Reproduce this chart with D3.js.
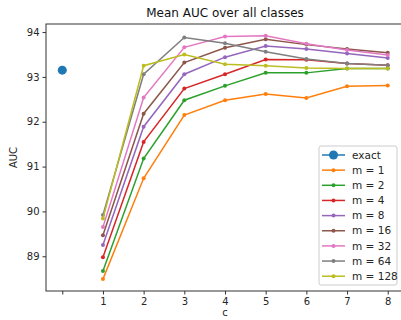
<!DOCTYPE html>
<html>
<head>
<meta charset="utf-8">
<script src="https://cdn.jsdelivr.net/npm/d3@7"></script>
<style>
  body { margin: 0; background: #fff; }
  text { font-family: "DejaVu Sans", sans-serif; }
</style>
</head>
<body>
<div id="chart"></div>
<script>
var width = 401,
  height = 320,
  margin = { left: 46, right: -3, top: 24, bottom: 29 };

// c values and series
var cValues = [1, 2, 3, 4, 5, 6, 7, 8];
var exactValue = 93.15;
var seriesNames = ["m = 1", "m = 2", "m = 4", "m = 8", "m = 16", "m = 32", "m = 64", "m = 128"];
var m1 = [88.49, 90.74, 92.15, 92.48, 92.62, 92.53, 92.79, 92.81];
var m2 = [88.67, 91.18, 92.48, 92.80, 93.09, 93.09, 93.19, 93.19];
var m4 = [88.98, 91.55, 92.74, 93.06, 93.39, 93.38, 93.30, 93.26];
var m8 = [89.25, 91.89, 93.06, 93.44, 93.69, 93.62, 93.52, 93.42];
var m16 = [89.47, 92.18, 93.32, 93.65, 93.84, 93.72, 93.62, 93.54];
var m32 = [89.65, 92.54, 93.66, 93.90, 93.92, 93.74, 93.60, 93.49];
var m64 = [89.92, 93.06, 93.88, 93.75, 93.56, 93.40, 93.30, 93.26];
var m128 = [89.84, 93.25, 93.50, 93.28, 93.25, 93.20, 93.19, 93.19];
var colors = ["#ff7f0e", "#2ca02c", "#d62728", "#9467bd", "#8c564b", "#e377c2", "#7f7f7f", "#bcbd22"];
var xTicks = [0, 1, 2, 3, 4, 5, 6, 7, 8];
var yTicks = [89, 90, 91, 92, 93, 94];

var allSeries = [m1, m2, m4, m8, m16, m32, m64, m128];

var svg = d3.select("#chart")
  .append("svg")
  .attr("width", width)
  .attr("height", height);

var x = d3.scaleLinear().domain([-0.4, 8.4]).range([margin.left, width - margin.right]);
var y = d3.scaleLinear().domain([88.225, 94.18]).range([height - margin.bottom, margin.top]);

// lines
var line = d3.line()
  .x(function (d, i) { return x(cValues[i]); })
  .y(function (d) { return y(d); });

allSeries.forEach(function (s, k) {
  svg.append("path")
    .datum(s)
    .attr("d", line)
    .attr("fill", "none")
    .attr("stroke", colors[k])
    .attr("stroke-width", 1.5);
  svg.selectAll(null)
    .data(s)
    .enter()
    .append("circle")
    .attr("cx", function (d, i) { return x(cValues[i]); })
    .attr("cy", function (d) { return y(d); })
    .attr("r", 2)
    .attr("fill", colors[k]);
});

// exact point
svg.append("circle")
  .attr("cx", x(0))
  .attr("cy", y(exactValue))
  .attr("r", 4.5)
  .attr("fill", "#1f77b4");

// axes
var xAxis = svg.append("g")
  .attr("transform", "translate(0," + (height - margin.bottom) + ")")
  .call(d3.axisBottom(x).tickValues(xTicks).tickSize(3.5).tickPadding(3)
    .tickFormat(function (d) { return d === 0 ? "" : d; }));
var yAxis = svg.append("g")
  .attr("transform", "translate(" + margin.left + ",0)")
  .call(d3.axisLeft(y).tickValues(yTicks).tickSize(3.5).tickPadding(3)
    .tickFormat(d3.format("d")));

[xAxis, yAxis].forEach(function (a) {
  a.selectAll("text").style("font-size", "10px").attr("fill", "#262626");
  a.selectAll("line").attr("stroke", "#333");
  a.select(".domain").remove();
});

// spines
svg.append("rect")
  .attr("x", margin.left)
  .attr("y", margin.top)
  .attr("width", width - margin.right - margin.left)
  .attr("height", height - margin.bottom - margin.top)
  .attr("fill", "none")
  .attr("stroke", "#333")
  .attr("stroke-width", 1);

// title and labels
svg.append("text")
  .attr("x", (margin.left + width - margin.right) / 2)
  .attr("y", 17)
  .attr("text-anchor", "middle")
  .style("font-size", "12px")
  .attr("fill", "#111")
  .text("Mean AUC over all classes");

svg.append("text")
  .attr("x", (margin.left + width - margin.right) / 2)
  .attr("y", 316)
  .attr("text-anchor", "middle")
  .style("font-size", "10px")
  .attr("fill", "#262626")
  .text("c");

svg.append("text")
  .attr("transform", "translate(17," + ((margin.top + height - margin.bottom) / 2) + ") rotate(-90)")
  .attr("text-anchor", "middle")
  .style("font-size", "10px")
  .attr("fill", "#262626")
  .text("AUC");

// legend
var legendX = 319, legendY = 146, rowH = 15.15;
svg.append("rect")
  .attr("x", legendX)
  .attr("y", legendY)
  .attr("width", 78)
  .attr("height", 139)
  .attr("rx", 2)
  .attr("fill", "#fff")
  .attr("fill-opacity", 0.8)
  .attr("stroke", "#ccc");

var legendItems = [{ name: "exact", color: "#1f77b4", r: 4.5 }];
seriesNames.forEach(function (n, k) {
  legendItems.push({ name: n, color: colors[k], r: 2 });
});

var items = svg.selectAll("g.legend")
  .data(legendItems)
  .enter()
  .append("g")
  .attr("class", "legend")
  .attr("transform", function (d, i) { return "translate(" + (legendX + 3) + "," + (legendY + 9 + i * rowH) + ")"; });

items.append("line")
  .attr("x1", 0).attr("x2", 23)
  .attr("stroke", function (d) { return d.color; })
  .attr("stroke-width", 1.5);
items.append("circle")
  .attr("cx", 11.5)
  .attr("r", function (d) { return d.r; })
  .attr("fill", function (d) { return d.color; });
items.append("text")
  .attr("x", 30)
  .attr("dy", "0.35em")
  .style("font-size", "10.5px")
  .attr("fill", "#262626")
  .text(function (d) { return d.name; });
</script>
</body>
</html>
